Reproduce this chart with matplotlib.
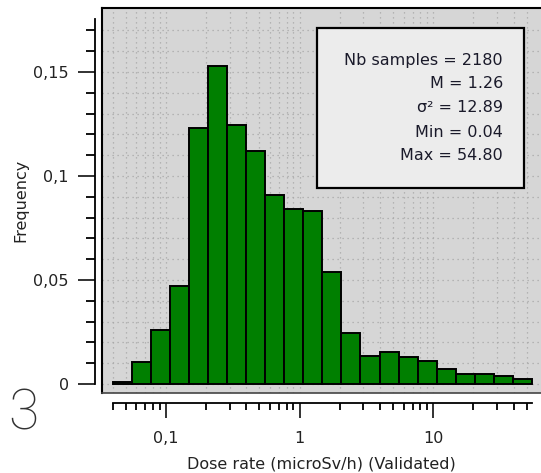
import numpy as np
import matplotlib
matplotlib.use("Agg")
import matplotlib.pyplot as plt
from matplotlib.patches import Rectangle
from matplotlib.ticker import FixedLocator, NullFormatter, FixedFormatter

# ---- data ----
x_min = 0.04
x_max = 54.80
n_bins = 22
frequencies = [0.0012, 0.0107, 0.026, 0.0472, 0.1231, 0.1531, 0.1244, 0.112,
               0.0909, 0.0842, 0.0832, 0.0537, 0.0244, 0.0135, 0.0156, 0.0128,
               0.0109, 0.0070, 0.0049, 0.0049, 0.0037, 0.0022]
stats_lines = ["Nb samples = 2180", "M = 1.26", "\u03c3\u00b2 = 12.89",
               "Min = 0.04", "Max = 54.80"]
y_ticks = [0, 0.05, 0.1, 0.15]
y_ticklabels = ["0", "0,05", "0,1", "0,15"]
x_ticks = [0.1, 1, 10]
x_ticklabels = ["0,1", "1", "10"]

W, H = 541, 473
fig = plt.figure(figsize=(W / 100, H / 100), dpi=100)

def fx(px):
    return px / W

def fy(py):
    return 1 - py / H

ax = fig.add_axes([fx(102), fy(393), fx(541) - fx(102), fy(8) - fy(393)])
ax.set_facecolor("#d6d6d6")

edges = np.logspace(np.log10(x_min), np.log10(x_max), n_bins + 1)
ax.bar(edges[:-1], frequencies, width=np.diff(edges), align="edge",
       color="#007f00", edgecolor="black", linewidth=1.4, zorder=3)

ax.set_xscale("log")
ax.set_xlim(0.0333, 64)
ax.set_ylim(-0.0043, 0.1808)

# spines
for s in ["top", "right"]:
    ax.spines[s].set_visible(False)
ax.spines["left"].set_position(("outward", 5))
ax.spines["bottom"].set_position(("outward", 7))
ax.spines["left"].set_bounds(0, 0.1755)
ax.spines["bottom"].set_bounds(x_min, x_max)
ax.spines["left"].set_linewidth(1.3)
ax.spines["bottom"].set_linewidth(1.3)

# box border (left, top, bottom)
ax.plot([0, 0], [0, 1], transform=ax.transAxes, color="black", lw=1.5,
        clip_on=False, zorder=5)
ax.plot([0, 1], [1, 1], transform=ax.transAxes, color="black", lw=1.5,
        clip_on=False, zorder=5)
ax.plot([0, 1], [0, 0], transform=ax.transAxes, color="#444444", lw=1.2,
        clip_on=False, zorder=5)

# ticks
ax.yaxis.set_major_locator(FixedLocator(y_ticks))
ax.yaxis.set_major_formatter(FixedFormatter(y_ticklabels))
ax.yaxis.set_minor_locator(FixedLocator(np.arange(0.01, 0.175, 0.01)))
ax.xaxis.set_major_locator(FixedLocator(x_ticks))
ax.xaxis.set_major_formatter(FixedFormatter(x_ticklabels))
minors = [m * 10.0 ** d for d in (-2, -1, 0, 1) for m in range(2, 10)]
minors = [v for v in minors if x_min <= v <= x_max]
ax.xaxis.set_minor_locator(FixedLocator(minors))
ax.xaxis.set_minor_formatter(NullFormatter())

FS = 11.5
ax.tick_params(axis="y", which="major", length=12, width=1.3, pad=7,
               labelsize=FS, colors="#222222")
ax.tick_params(axis="y", which="minor", length=6.5, width=1.3)
ax.tick_params(axis="x", which="major", length=11, width=1.3, pad=9,
               labelsize=FS, colors="#222222")
ax.tick_params(axis="x", which="minor", length=5, width=1.3)

ax.grid(True, which="both", color="#a8a8a8", linestyle=(0, (1, 3)),
        linewidth=0.9, zorder=0)
ax.set_axisbelow(True)

ax.set_ylabel("Frequency", fontsize=FS, color="#222222", labelpad=3)
ax.set_xlabel("Dose rate (microSv/h) (Validated)", fontsize=FS,
              color="#222222", labelpad=8)

# stats box
box = Rectangle((fx(317), fy(188)), fx(524) - fx(317), fy(28) - fy(188),
                transform=fig.transFigure, facecolor="#ececec",
                edgecolor="black", linewidth=1.6, zorder=10)
fig.add_artist(box)
ys = [60, 84, 108, 132, 155]
for t, yy in zip(stats_lines, ys):
    fig.text(fx(503), fy(yy), t, ha="right", va="center", fontsize=FS,
             color="#1a1a2a", zorder=11)

fig.text(fx(23), fy(414), "3", ha="center", va="center", fontsize=40,
         family="Roboto", weight="light", color="#333333")

fig.savefig("out.png", dpi=100)
